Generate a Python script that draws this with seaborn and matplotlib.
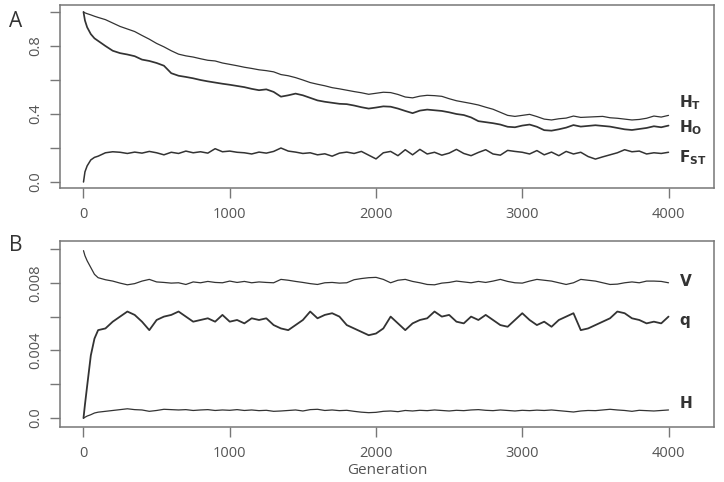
import numpy as np
import pandas as pd
import matplotlib
matplotlib.use("Agg")
import matplotlib.pyplot as plt
import seaborn as sns

sns.set_style("ticks")
plt.rcParams["font.family"] = ["Open Sans", "DejaVu Sans"]
plt.rcParams["mathtext.fontset"] = "dejavusans"

# ------------------------------------------------------------
# data
# ------------------------------------------------------------
generation = [0, 10, 25, 50, 75] + list(range(100, 4001, 50))

h_t = [1.00, 0.995, 0.99, 0.983, 0.975,
       0.968, 0.955, 0.935, 0.915, 0.90, 0.885, 0.862, 0.84, 0.815, 0.795,
       0.772, 0.752, 0.742, 0.735, 0.725, 0.716, 0.712, 0.70, 0.692,
       0.684, 0.675, 0.668, 0.66, 0.655, 0.648, 0.632, 0.625, 0.614, 0.60,
       0.585, 0.575, 0.566, 0.555, 0.548, 0.54, 0.532, 0.525, 0.516, 0.522,
       0.528, 0.526, 0.515, 0.50, 0.495, 0.505, 0.51, 0.508, 0.504, 0.49,
       0.478, 0.47, 0.462, 0.453, 0.44, 0.428, 0.41, 0.392, 0.386, 0.392,
       0.398, 0.385, 0.37, 0.365, 0.372, 0.376, 0.388, 0.38, 0.382, 0.384,
       0.386, 0.378, 0.375, 0.37, 0.365, 0.368, 0.375, 0.388, 0.382, 0.392]

h_o = [1.00, 0.95, 0.91, 0.87, 0.845,
       0.83, 0.80, 0.772, 0.758, 0.75, 0.74, 0.72, 0.712, 0.70, 0.684,
       0.64, 0.625, 0.618, 0.61, 0.60, 0.592, 0.585, 0.578, 0.572,
       0.565, 0.558, 0.548, 0.54, 0.545, 0.53, 0.502, 0.51, 0.52, 0.51,
       0.495, 0.48, 0.472, 0.466, 0.46, 0.458, 0.45, 0.44, 0.432, 0.438,
       0.445, 0.443, 0.432, 0.418, 0.405, 0.42, 0.426, 0.422, 0.418, 0.41,
       0.40, 0.394, 0.38, 0.358, 0.352, 0.346, 0.338, 0.325, 0.322, 0.332,
       0.338, 0.325, 0.305, 0.302, 0.31, 0.32, 0.335, 0.326, 0.33, 0.334,
       0.33, 0.326, 0.318, 0.31, 0.306, 0.312, 0.318, 0.328, 0.322, 0.332]

f_st = [0.0, 0.06, 0.095, 0.13, 0.145,
        0.152, 0.172, 0.178, 0.175, 0.168, 0.176, 0.17, 0.18, 0.172, 0.16,
        0.175, 0.168, 0.182, 0.172, 0.178, 0.17, 0.196, 0.178, 0.182,
        0.175, 0.172, 0.165, 0.176, 0.17, 0.18, 0.20, 0.182, 0.176, 0.168,
        0.172, 0.16, 0.166, 0.152, 0.17, 0.176, 0.168, 0.18, 0.158, 0.136,
        0.172, 0.18, 0.155, 0.19, 0.16, 0.192, 0.165, 0.175, 0.158, 0.17,
        0.192, 0.168, 0.155, 0.174, 0.19, 0.165, 0.158, 0.186, 0.18, 0.175,
        0.165, 0.185, 0.16, 0.176, 0.155, 0.18, 0.165, 0.175, 0.15, 0.135,
        0.148, 0.16, 0.172, 0.19, 0.178, 0.182, 0.165, 0.172, 0.168, 0.175]

v = [0.0099, 0.0096, 0.0093, 0.0089, 0.0085,
     0.0083, 0.00818, 0.0081, 0.00798, 0.00788, 0.00795, 0.0081, 0.0082, 0.00805, 0.00802,
     0.00798, 0.0080, 0.0079, 0.00805, 0.0080, 0.00808, 0.00802, 0.0080, 0.0081,
     0.00802, 0.00808, 0.0080, 0.00805, 0.00802, 0.0080, 0.0082, 0.00815, 0.00808, 0.00802,
     0.00795, 0.0079, 0.0080, 0.00802, 0.00798, 0.0080, 0.00818, 0.00825, 0.0083, 0.00832,
     0.0082, 0.0080, 0.00815, 0.0082, 0.00808, 0.0080, 0.0079, 0.00788, 0.00798, 0.00802,
     0.0081, 0.00805, 0.0080, 0.00808, 0.00802, 0.0081, 0.0082, 0.00808, 0.0080, 0.00798,
     0.0081, 0.0082, 0.00815, 0.0081, 0.0080, 0.0079, 0.0080, 0.0082, 0.00815, 0.0081,
     0.0080, 0.0079, 0.00792, 0.0080, 0.00805, 0.0080, 0.0081, 0.0081, 0.00808, 0.0080]

q = [0.0, 0.0008, 0.0019, 0.0037, 0.0047,
     0.0052, 0.0053, 0.0057, 0.0060, 0.0063, 0.0061, 0.0057, 0.0052, 0.0058, 0.0060,
     0.0061, 0.0063, 0.0060, 0.0057, 0.0058, 0.0059, 0.0057, 0.0061, 0.0057,
     0.0058, 0.0056, 0.0059, 0.0058, 0.0059, 0.0055, 0.0053, 0.0052, 0.0055, 0.0058,
     0.0063, 0.0059, 0.0061, 0.0062, 0.0060, 0.0055, 0.0053, 0.0051, 0.0049, 0.0050,
     0.0053, 0.0060, 0.0056, 0.0052, 0.0056, 0.0058, 0.0059, 0.0063, 0.0060, 0.0061,
     0.0057, 0.0056, 0.0060, 0.0058, 0.0061, 0.0058, 0.0055, 0.0054, 0.0058, 0.0062,
     0.0058, 0.0055, 0.0057, 0.0054, 0.0058, 0.0060, 0.0062, 0.0052, 0.0053, 0.0055,
     0.0057, 0.0059, 0.0063, 0.0062, 0.0059, 0.0058, 0.0056, 0.0057, 0.0056, 0.0060]

h = [0.0, 0.00005, 0.00012, 0.0002, 0.0003,
     0.00035, 0.0004, 0.00045, 0.0005, 0.00055, 0.0005, 0.00048, 0.0004, 0.00045, 0.00052,
     0.0005, 0.00048, 0.0005, 0.00045, 0.00048, 0.0005, 0.00045, 0.00048, 0.00046,
     0.0005, 0.00045, 0.00048, 0.00044, 0.00046, 0.0004, 0.00042, 0.00045, 0.00048, 0.00042,
     0.0005, 0.00052, 0.00045, 0.00048, 0.00044, 0.00046, 0.0004, 0.00035, 0.00032, 0.00034,
     0.0004, 0.00042, 0.00038, 0.00045, 0.00042, 0.00046, 0.00044, 0.00048, 0.00045, 0.00042,
     0.00046, 0.00044, 0.00048, 0.0005, 0.00046, 0.00044, 0.00048, 0.00045, 0.00042, 0.00046,
     0.00044, 0.00047, 0.00045, 0.00048, 0.00044, 0.0004, 0.00036, 0.00042, 0.00045, 0.00044,
     0.00048, 0.00052, 0.00048, 0.00045, 0.0004, 0.00046, 0.00044, 0.00042, 0.00045, 0.00048]

df = pd.DataFrame({"generation": generation, "H_T": h_t, "H_O": h_o, "F_ST": f_st,
                   "V": v, "q": q, "H": h})

line_col = "#333333"
axis_col = "#777777"
text_col = "#555555"

fig = plt.figure(figsize=(7.24, 4.82), dpi=100)
ax_a = fig.add_axes([0.083, 0.61, 0.903, 0.3796])
ax_b = fig.add_axes([0.083, 0.114, 0.903, 0.386])


def style_axis(ax):
    for s in ax.spines.values():
        s.set_color(axis_col)
        s.set_linewidth(1.1)
    ax.tick_params(direction="out", length=7, width=1.0, color=axis_col,
                   labelcolor=text_col, labelsize=10.5)
    ax.tick_params(axis="x", pad=7)
    ax.tick_params(axis="y", pad=5)
    ax.set_xlim(-160, 4310)
    ax.set_xticks([0, 1000, 2000, 3000, 4000])
    ax.set_xticklabels(["0", "1000", "2000", "3000", "4000"])
    ax.set_xlabel("")
    ax.set_ylabel("")
    for lab in ax.get_yticklabels():
        lab.set_rotation(90)
        lab.set_va("center")


# ------------------------------------------------------------
# A: heterozygosity and F_ST
# ------------------------------------------------------------
sns.lineplot(data=df, x="generation", y="H_T", ax=ax_a, color=line_col, linewidth=0.9)
sns.lineplot(data=df, x="generation", y="H_O", ax=ax_a, color=line_col, linewidth=1.25)
sns.lineplot(data=df, x="generation", y="F_ST", ax=ax_a, color=line_col, linewidth=1.1)
ax_a.set_ylim(-0.035, 1.041)
ax_a.set_yticks([0, 0.2, 0.4, 0.6, 0.8, 1.0])
ax_a.set_yticklabels(["0.0", "", "0.4", "", "0.8", ""])
style_axis(ax_a)

ax_a.text(4072, 0.465, r"$\mathbf{H_T}$", fontsize=11, color="#333333", va="center")
ax_a.text(4072, 0.322, r"$\mathbf{H_O}$", fontsize=11, color="#333333", va="center")
ax_a.text(4072, 0.145, r"$\mathbf{F_{ST}}$", fontsize=11, color="#333333", va="center")
fig.text(0.013, 0.955, "A", fontsize=15, color="#333333", va="center")

# ------------------------------------------------------------
# B: V, q and H
# ------------------------------------------------------------
sns.lineplot(data=df, x="generation", y="V", ax=ax_b, color=line_col, linewidth=0.9)
sns.lineplot(data=df, x="generation", y="q", ax=ax_b, color=line_col, linewidth=1.3)
sns.lineplot(data=df, x="generation", y="H", ax=ax_b, color=line_col, linewidth=0.9)
ax_b.set_ylim(-0.00053, 0.01047)
ax_b.set_yticks([0, 0.002, 0.004, 0.006, 0.008, 0.010])
ax_b.set_yticklabels(["0.0", "", "0.004", "", "0.008", ""])
style_axis(ax_b)
ax_b.set_xlabel("Generation", fontsize=11, color=text_col, labelpad=1)

ax_b.text(4072, 0.00807, r"$\mathbf{V}$", fontsize=11, color="#333333", va="center")
ax_b.text(4072, 0.0057, r"$\mathbf{q}$", fontsize=11, color="#333333", va="center")
ax_b.text(4072, 0.00083, r"$\mathbf{H}$", fontsize=11, color="#333333", va="center")
fig.text(0.013, 0.49, "B", fontsize=15, color="#333333", va="center")

fig.savefig("out.png", dpi=100)
